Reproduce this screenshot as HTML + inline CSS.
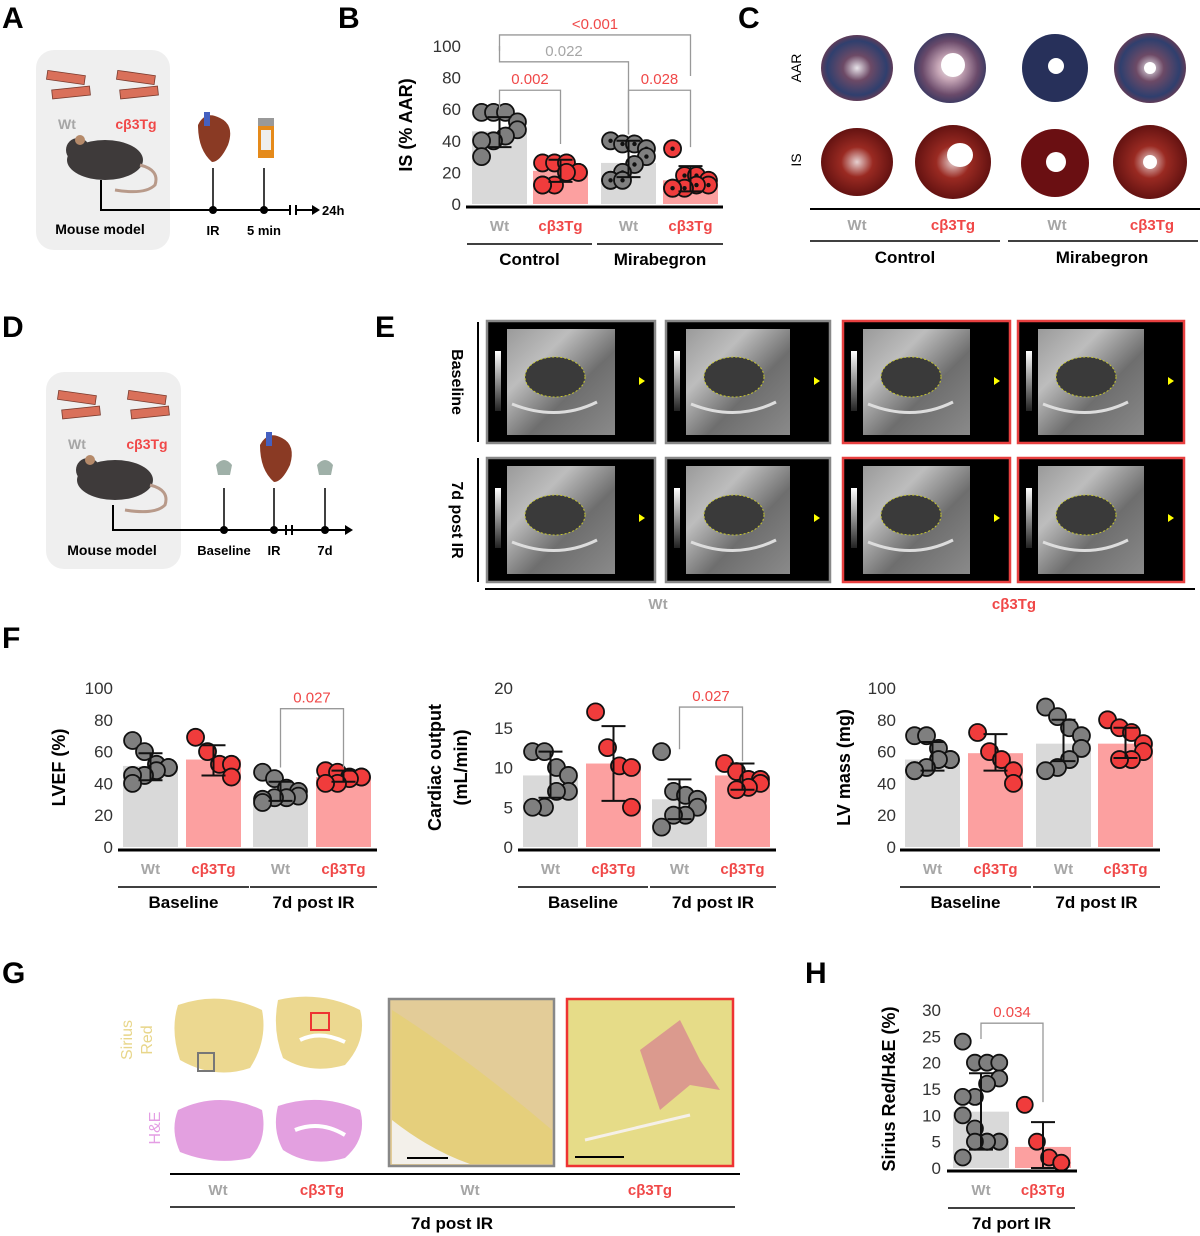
<!DOCTYPE html>
<html><head><meta charset="utf-8"><style>
body{margin:0;background:#fff}
svg{display:block;font-family:"Liberation Sans",sans-serif}
</style></head><body>
<svg id="fig" width="1200" height="1236" viewBox="0 0 1200 1236" xmlns="http://www.w3.org/2000/svg">
<defs>
<radialGradient id="aar1" cx="50%" cy="50%" r="55%"><stop offset="0" stop-color="#e8e4ea"/><stop offset="0.35" stop-color="#6d4a66"/><stop offset="0.75" stop-color="#2f3f6e"/><stop offset="1" stop-color="#7b3a4c"/></radialGradient>
<radialGradient id="aar2" cx="50%" cy="50%" r="55%"><stop offset="0" stop-color="#eee"/><stop offset="0.3" stop-color="#c8a8b8"/><stop offset="0.7" stop-color="#6a4a6a"/><stop offset="1" stop-color="#2e3560"/></radialGradient>
<radialGradient id="is1" cx="50%" cy="50%" r="55%"><stop offset="0" stop-color="#e6d0d0"/><stop offset="0.4" stop-color="#9a2a22"/><stop offset="1" stop-color="#5a0e0e"/></radialGradient>
<linearGradient id="us" x1="0" y1="0" x2="1" y2="1"><stop offset="0" stop-color="#9a9a9a"/><stop offset="0.3" stop-color="#bdbdbd"/><stop offset="0.6" stop-color="#6e6e6e"/><stop offset="1" stop-color="#8a8a8a"/></linearGradient>
<linearGradient id="bar" x1="0" y1="0" x2="0" y2="1"><stop offset="0" stop-color="#fff"/><stop offset="1" stop-color="#222"/></linearGradient>
</defs>

<g font-weight="bold" font-size="30" fill="#000">
<text x="2" y="28">A</text>
<text x="338" y="28">B</text>
<text x="738" y="28">C</text>
<text x="2" y="337">D</text>
<text x="375" y="337">E</text>
<text x="2" y="648">F</text>
<text x="2" y="983">G</text>
<text x="805" y="983">H</text>
</g>

<g>
<rect x="36" y="50" width="134" height="200" rx="18" fill="#efefef"/>
<g fill="#d9705a" stroke="#7a3b2e" stroke-width="0.8">
<rect x="47" y="73" width="38" height="9" transform="rotate(8 66 77)"/><rect x="52" y="88" width="38" height="9" transform="rotate(-6 71 92)"/>
<rect x="117" y="73" width="38" height="9" transform="rotate(8 136 77)"/><rect x="120" y="88" width="38" height="9" transform="rotate(-6 139 92)"/>
</g>
<text x="67" y="129" font-size="14" font-weight="bold" fill="#a6a6a6" text-anchor="middle">Wt</text>
<text x="136" y="129" font-size="14" font-weight="bold" fill="#f04848" text-anchor="middle">cβ3Tg</text>
<ellipse cx="105" cy="160" rx="38" ry="20" fill="#3e3a3a"/><circle cx="78" cy="150" r="12" fill="#3e3a3a"/><circle cx="80" cy="140" r="5" fill="#b58a6a"/>
<path d="M140 165 Q160 170 155 185 Q145 195 115 190" fill="none" stroke="#b89a8a" stroke-width="3"/>
<path d="M101 180 V210 H290" fill="none" stroke="#000" stroke-width="2"/>
<path d="M290 205 V215 M296 205 V215 M296 210 H312" stroke="#000" stroke-width="2"/><path d="M312 205 L320 210 L312 215 Z" fill="#000"/>
<line x1="213" y1="168" x2="213" y2="210" stroke="#000" stroke-width="1.5"/><line x1="264" y1="168" x2="264" y2="210" stroke="#000" stroke-width="1.5"/>
<circle cx="213" cy="210" r="4"/><circle cx="264" cy="210" r="4"/>
<path d="M198 125 Q205 110 220 118 Q235 125 228 145 Q220 162 212 162 Q198 150 198 125Z" fill="#8a3a24"/><rect x="204" y="112" width="6" height="14" fill="#4560c0"/>
<rect x="258" y="118" width="16" height="8" fill="#999"/><rect x="258" y="126" width="16" height="32" fill="#e58a1a"/><rect x="261" y="130" width="10" height="20" fill="#eee"/>
<text x="100" y="234" font-size="14" font-weight="bold" text-anchor="middle">Mouse model</text>
<text x="213" y="235" font-size="13" font-weight="bold" text-anchor="middle">IR</text>
<text x="264" y="235" font-size="13" font-weight="bold" text-anchor="middle">5 min</text>
<text x="322" y="215" font-size="13" font-weight="bold">24h</text>
</g>

<g>
<rect x="46" y="372" width="135" height="197" rx="18" fill="#efefef"/>
<g fill="#d9705a" stroke="#7a3b2e" stroke-width="0.8">
<rect x="58" y="393" width="38" height="9" transform="rotate(8 77 397)"/><rect x="62" y="408" width="38" height="9" transform="rotate(-6 81 412)"/>
<rect x="128" y="393" width="38" height="9" transform="rotate(8 147 397)"/><rect x="131" y="408" width="38" height="9" transform="rotate(-6 150 412)"/>
</g>
<text x="77" y="449" font-size="14" font-weight="bold" fill="#a6a6a6" text-anchor="middle">Wt</text>
<text x="147" y="449" font-size="14" font-weight="bold" fill="#f04848" text-anchor="middle">cβ3Tg</text>
<ellipse cx="115" cy="480" rx="38" ry="20" fill="#3e3a3a"/><circle cx="88" cy="470" r="12" fill="#3e3a3a"/><circle cx="90" cy="460" r="5" fill="#b58a6a"/>
<path d="M150 485 Q170 490 165 505 Q155 515 125 510" fill="none" stroke="#b89a8a" stroke-width="3"/>
<path d="M113 505 V530 H345" fill="none" stroke="#000" stroke-width="2"/>
<path d="M286 525 V535 M292 525 V535" stroke="#000" stroke-width="2"/><path d="M345 525 L353 530 L345 535 Z" fill="#000"/>
<line x1="224" y1="488" x2="224" y2="530" stroke="#000" stroke-width="1.5"/><line x1="274" y1="488" x2="274" y2="530" stroke="#000" stroke-width="1.5"/><line x1="325" y1="488" x2="325" y2="530" stroke="#000" stroke-width="1.5"/>
<circle cx="224" cy="530" r="4"/><circle cx="274" cy="530" r="4"/><circle cx="325" cy="530" r="4"/>
<path d="M216 465 Q224 455 232 465 L230 475 H218Z" fill="#9fb0a8"/><path d="M317 465 Q325 455 333 465 L331 475 H319Z" fill="#9fb0a8"/>
<path d="M260 445 Q268 430 282 438 Q296 445 290 465 Q282 482 274 482 Q260 470 260 445Z" fill="#8a3a24"/><rect x="266" y="432" width="6" height="14" fill="#4560c0"/>
<text x="112" y="555" font-size="14" font-weight="bold" text-anchor="middle">Mouse model</text>
<text x="224" y="555" font-size="13" font-weight="bold" text-anchor="middle">Baseline</text>
<text x="274" y="555" font-size="13" font-weight="bold" text-anchor="middle">IR</text>
<text x="325" y="555" font-size="13" font-weight="bold" text-anchor="middle">7d</text>
</g>

<g>
<text transform="translate(801 68) rotate(-90)" font-size="14" text-anchor="middle">AAR</text>
<text transform="translate(801 160) rotate(-90)" font-size="14" text-anchor="middle">IS</text>
<ellipse cx="857" cy="68" rx="36" ry="33" fill="url(#aar1)"/>
<ellipse cx="950" cy="68" rx="36" ry="35" fill="url(#aar2)"/><ellipse cx="953" cy="65" rx="12" ry="12" fill="#fff"/>
<ellipse cx="1055" cy="68" rx="33" ry="34" fill="#27305a"/><circle cx="1056" cy="66" r="8" fill="#fff"/>
<ellipse cx="1150" cy="68" rx="36" ry="35" fill="url(#aar1)"/><circle cx="1150" cy="68" r="6" fill="#fff"/>
<ellipse cx="857" cy="162" rx="36" ry="34" fill="url(#is1)"/>
<ellipse cx="953" cy="162" rx="38" ry="37" fill="url(#is1)"/><ellipse cx="960" cy="155" rx="13" ry="12" fill="#fff"/>
<ellipse cx="1055" cy="163" rx="34" ry="34" fill="#6a0f12"/><circle cx="1056" cy="162" r="10" fill="#fff"/>
<ellipse cx="1150" cy="162" rx="37" ry="37" fill="url(#is1)"/><circle cx="1150" cy="162" r="7" fill="#fff"/>
<line x1="810" y1="209" x2="1200" y2="209" stroke="#000" stroke-width="2"/>
<text x="857" y="230" font-size="15" font-weight="bold" fill="#a6a6a6" text-anchor="middle">Wt</text>
<text x="953" y="230" font-size="15" font-weight="bold" fill="#f04848" text-anchor="middle">cβ3Tg</text>
<text x="1057" y="230" font-size="15" font-weight="bold" fill="#a6a6a6" text-anchor="middle">Wt</text>
<text x="1152" y="230" font-size="15" font-weight="bold" fill="#f04848" text-anchor="middle">cβ3Tg</text>
<line x1="810" y1="241" x2="1000" y2="241" stroke="#000" stroke-width="1.5"/><line x1="1008" y1="241" x2="1198" y2="241" stroke="#000" stroke-width="1.5"/>
<text x="905" y="263" font-size="17" font-weight="bold" text-anchor="middle">Control</text>
<text x="1102" y="263" font-size="17" font-weight="bold" text-anchor="middle">Mirabegron</text>
</g>

<g>
<line x1="478" y1="322" x2="478" y2="442" stroke="#000" stroke-width="2"/>
<line x1="478" y1="458" x2="478" y2="582" stroke="#000" stroke-width="2"/>
<text transform="translate(452 382) rotate(90)" font-size="16" font-weight="bold" text-anchor="middle">Baseline</text>
<text transform="translate(452 520) rotate(90)" font-size="16" font-weight="bold" text-anchor="middle">7d post IR</text>
<g id="usframes"></g>
<line x1="485" y1="589" x2="1195" y2="589" stroke="#000" stroke-width="2"/>
<text x="658" y="609" font-size="15" font-weight="bold" fill="#a6a6a6" text-anchor="middle">Wt</text>
<text x="1014" y="609" font-size="15" font-weight="bold" fill="#f04848" text-anchor="middle">cβ3Tg</text>
</g>

<g>
<text transform="translate(132 1040) rotate(-90)" font-size="16" fill="#e8d68a" text-anchor="middle">Sirius</text>
<text transform="translate(152 1040) rotate(-90)" font-size="16" fill="#e8d68a" text-anchor="middle">Red</text>
<text transform="translate(160 1128) rotate(-90)" font-size="16" fill="#e49ee4" text-anchor="middle">H&amp;E</text>
<path d="M178 1005 Q220 990 262 1010 Q268 1040 250 1068 Q215 1080 180 1060 Q170 1030 178 1005Z" fill="#ecd890"/>
<path d="M278 1000 Q320 990 360 1010 Q368 1040 345 1065 Q310 1075 283 1058 Q272 1030 278 1000Z" fill="#ecd890"/>
<path d="M300 1040 Q320 1030 345 1042" stroke="#fff" stroke-width="4" fill="none"/>
<rect x="198" y="1053" width="16" height="18" fill="none" stroke="#777" stroke-width="2"/>
<rect x="311" y="1013" width="18" height="17" fill="none" stroke="#e33" stroke-width="2"/>
<path d="M178 1110 Q220 1090 262 1110 Q268 1140 250 1158 Q215 1166 180 1152 Q170 1130 178 1110Z" fill="#e3a0e0"/>
<path d="M278 1106 Q320 1092 360 1110 Q368 1138 345 1158 Q310 1168 283 1150 Q272 1130 278 1106Z" fill="#e3a0e0"/>
<path d="M295 1130 Q320 1120 345 1135" stroke="#fff" stroke-width="4" fill="none"/>
<rect x="389" y="999" width="165" height="167" fill="#e3cc98" stroke="#888" stroke-width="2.5"/>
<path d="M392 1010 Q470 1060 552 1130 V1164 H392Z" fill="#e6d070" opacity="0.7"/>
<path d="M392 1120 Q430 1150 470 1164 H392Z" fill="#f3f0ea"/>
<line x1="407" y1="1158" x2="448" y2="1158" stroke="#000" stroke-width="2"/>
<rect x="567" y="999" width="166" height="167" fill="#e6dc88" stroke="#e33" stroke-width="2.5"/>
<path d="M640 1050 L680 1020 L700 1060 L720 1090 L690 1085 L660 1110 L650 1080 Z" fill="#d88a90" opacity="0.8"/>
<line x1="585" y1="1140" x2="690" y2="1115" stroke="#f5f0e8" stroke-width="3"/>
<line x1="575" y1="1157" x2="624" y2="1157" stroke="#000" stroke-width="2"/>
<line x1="170" y1="1174" x2="740" y2="1174" stroke="#000" stroke-width="2"/>
<text x="218" y="1195" font-size="15" font-weight="bold" fill="#a6a6a6" text-anchor="middle">Wt</text>
<text x="322" y="1195" font-size="15" font-weight="bold" fill="#f04848" text-anchor="middle">cβ3Tg</text>
<text x="470" y="1195" font-size="15" font-weight="bold" fill="#a6a6a6" text-anchor="middle">Wt</text>
<text x="650" y="1195" font-size="15" font-weight="bold" fill="#f04848" text-anchor="middle">cβ3Tg</text>
<line x1="170" y1="1207" x2="735" y2="1207" stroke="#000" stroke-width="1.5"/>
<text x="452" y="1229" font-size="17" font-weight="bold" text-anchor="middle">7d post IR</text>
</g>

<g id="charts"></g>
</svg>
<script>
// ===== Panel B: IS (% AAR)
const bCategories = ["Wt", "cβ3Tg", "Wt", "cβ3Tg"];
const bMeans = [46, 21, 26, 15];
const bErrLow = [36, 14, 17, 8];
const bErrHigh = [55, 28, 40, 24];
const bPoints = [[58,58,58,52,47,43,40,40,30],[26,26,26,20,20,20,12,12,12],[40,38,38,35,30,25,20,15,15,15],[35,18,18,15,12,12,10,10,10]];
const bTicks = [0,20,40,60,80,100];
const bPvalues = ["0.002","0.028","0.022","<0.001"];
// ===== Panel F: LVEF
const f1Categories = ["Wt", "cβ3Tg", "Wt", "cβ3Tg"];
const f1Means = [51, 55, 31, 44];
const f1ErrLow = [42, 45, 29, 41];
const f1ErrHigh = [59, 64, 41, 48];
const f1Points = [[67,60,52,50,50,48,45,45,40],[69,60,52,52,44],[47,43,37,35,32,31,31,30,28],[48,47,44,44,44,43,40,40]];
const f1Ticks = [0,20,40,60,80,100];
const f1Pvalues = ["0.027"];
// ===== Panel F: Cardiac output
const f2Categories = ["Wt", "cβ3Tg", "Wt", "cβ3Tg"];
const f2Means = [9, 10.5, 6, 9];
const f2ErrLow = [6.2, 5.8, 3.5, 7.2];
const f2ErrHigh = [12, 15.2, 8.5, 10.5];
const f2Points = [[12,12,10,9,7,7,5,5],[17,12.5,10.2,10,5],[12,7,6.5,6,5,4,4,2.5],[10.5,9.5,8.5,8.5,8,7.5,7.2]];
const f2Ticks = [0,5,10,15,20];
const f2Pvalues = ["0.027"];
// ===== Panel F: LV mass
const f3Categories = ["Wt", "cβ3Tg", "Wt", "cβ3Tg"];
const f3Means = [55, 59, 65, 65];
const f3ErrLow = [48, 48, 54, 56];
const f3ErrHigh = [66, 71, 80, 75];
const f3Points = [[70,70,62,55,55,55,50,48,48],[72,60,55,48,40],[88,82,75,70,62,55,50,48],[80,75,72,65,60,55,55]];
const f3Ticks = [0,20,40,60,80,100];
// ===== Panel H: Sirius Red
const hCategories = ["Wt", "cβ3Tg"];
const hMeans = [10.7, 4];
const hErrLow = [3.5, 0];
const hErrHigh = [18, 8.7];
const hPoints = [[24,20,20,20,17,16,13.5,13.5,10,7.5,5,5,5,5,5,2],[12,5,2,1,1]];
const hTicks = [0,5,10,15,20,25,30];
const hPvalues = ["0.034"];

const NS = "http://www.w3.org/2000/svg";
const root = document.getElementById("charts");
function mk(tag, attrs, parent, txt) {
  const e = document.createElementNS(NS, tag);
  for (const k in attrs) e.setAttribute(k, attrs[k]);
  if (txt !== undefined) e.textContent = txt;
  (parent || root).appendChild(e);
  return e;
}
const GRAY = "#a6a6a6", RED = "#f04848";

function drawChart(o) {
  const g = mk("g", {});
  
  
  const maxV = o.ticks[o.ticks.length - 1];
  const y = v => o.y0 - (v / maxV) * (o.y0 - o.yTop);
  const bx = i => o.barX[i];
  o.ticks.forEach(t => {
    const tl = mk("text", {x: o.tickX, y: y(t) + 6, "font-size": 17, fill: "#333", "text-anchor": "end"}, g, t);
    
    
  });
  const yt = mk("text", {transform: `translate(${o.titleX} ${(o.y0 + o.yTop) / 2}) rotate(-90)`, "font-size": 18, "font-weight": "bold", "text-anchor": "middle"}, g);
  
  
  o.title.forEach((line, k) => mk("tspan", {x: 0, dy: k === 0 ? (o.title.length > 1 ? -4 : 0) : 26}, yt, line));
  o.means.forEach((m, i) => {
    const red = o.cats[i] !== "Wt";
    const r = mk("rect", {x: bx(i), y: y(m), width: o.barW, height: o.y0 - y(m), fill: red ? "#fca0a0" : "#d9d9d9"}, g);
    
    
  });
  o.points.forEach((arr, i) => {
    const red = o.cats[i] !== "Wt";
    const cx = bx(i) + o.barW / 2;
    arr.forEach((v, j) => {
      const off = ((j % 4) - 1.5) * (o.barW / 4.6) * ((Math.floor(j / 4) % 2) ? -1 : 1);
      const c = mk("circle", {cx: cx + off, cy: y(v), r: o.r, fill: red ? "#f03c3c" : "#7f7f7f", stroke: "#111", "stroke-width": 1.8}, g);
      
      
      if (o.dotted && o.dotted[i]) mk("circle", {cx: cx + off, cy: y(v), r: 2.2, fill: "#111"}, g);
    });
    const eb = mk("path", {d: `M${cx} ${y(o.lo[i])} V${y(o.hi[i])} M${cx - 12} ${y(o.lo[i])} H${cx + 12} M${cx - 12} ${y(o.hi[i])} H${cx + 12}`, stroke: "#111", "stroke-width": 2, fill: "none"}, g);
    
    
  });
  const ax = mk("line", {x1: o.axX0, x2: o.axX1, y1: o.y0 + 3, y2: o.y0 + 3, stroke: "#000", "stroke-width": 3}, g);
  
  
  o.cats.forEach((c, i) => {
    const t = mk("text", {x: bx(i) + o.barW / 2, y: o.y0 + 27, "font-size": 15, "font-weight": "bold", fill: c === "Wt" ? GRAY : RED, "text-anchor": "middle"}, g, c);
    
    
  });
  (o.groups || []).forEach(gr => {
    mk("line", {x1: gr[0], x2: gr[1], y1: o.y0 + 40, y2: o.y0 + 40, stroke: "#000", "stroke-width": 1.6}, g);
    const t = mk("text", {x: (gr[0] + gr[1]) / 2, y: o.y0 + 61, "font-size": 17, "font-weight": "bold", "text-anchor": "middle"}, g, gr[2]);
    
    
  });
  (o.brackets || []).forEach(b => {
    const x1 = bx(b[0]) + o.barW / 2, x2 = bx(b[1]) + o.barW / 2;
    const p = mk("path", {d: `M${x1} ${y(b[4])} V${y(b[3])} H${x2} V${y(b[5])}`, stroke: "#999", "stroke-width": 1.3, fill: "none"}, g);
    
    
    const t = mk("text", {x: (x1 + x2) / 2, y: y(b[3]) - 6, "font-size": 15, fill: b[6], "text-anchor": "middle"}, g, o.pvals[b[2]]);
    
    
  });
}

drawChart({name: "chart-b-infarct-size", cats: bCategories, means: bMeans, lo: bErrLow, hi: bErrHigh, points: bPoints, ticks: bTicks, pvals: bPvalues,
  y0: 204, yTop: 46, barX: [472, 533, 601, 663], barW: 55, r: 8.5, tickX: 461, titleX: 412, title: ["IS (% AAR)"],
  axX0: 466, axX1: 723, dotted: [false, false, true, true],
  groups: [[467, 592, "Control"], [597, 723, "Mirabegron"]],
  brackets: [[0, 1, 0, 72, 60, 38, RED], [2, 3, 1, 72, 44, 36, RED], [0, 2, 2, 90, 100, 44, GRAY], [0, 3, 3, 107, 97, 81, RED]]});

drawChart({name: "chart-f-lvef", cats: f1Categories, means: f1Means, lo: f1ErrLow, hi: f1ErrHigh, points: f1Points, ticks: f1Ticks, pvals: f1Pvalues,
  y0: 847, yTop: 688, barX: [123, 186, 253, 316], barW: 55, r: 8.5, tickX: 113, titleX: 65, title: ["LVEF (%)"],
  axX0: 118, axX1: 377, groups: [[118, 249, "Baseline"], [250, 377, "7d post IR"]],
  brackets: [[2, 3, 0, 87, 50, 50, RED]]});

drawChart({name: "chart-f-cardiac-output", cats: f2Categories, means: f2Means, lo: f2ErrLow, hi: f2ErrHigh, points: f2Points, ticks: f2Ticks, pvals: f2Pvalues,
  y0: 847, yTop: 688, barX: [523, 586, 652, 715], barW: 55, r: 8.5, tickX: 513, titleX: 445, title: ["Cardiac output", "(mL/min)"],
  axX0: 518, axX1: 776, groups: [[518, 648, "Baseline"], [650, 776, "7d post IR"]],
  brackets: [[2, 3, 0, 17.6, 12.3, 10.8, RED]]});

drawChart({name: "chart-f-lv-mass", cats: f3Categories, means: f3Means, lo: f3ErrLow, hi: f3ErrHigh, points: f3Points, ticks: f3Ticks,
  y0: 847, yTop: 688, barX: [905, 968, 1036, 1098], barW: 55, r: 8.5, tickX: 896, titleX: 850, title: ["LV mass (mg)"],
  axX0: 900, axX1: 1160, groups: [[900, 1031, "Baseline"], [1033, 1160, "7d post IR"]]});

drawChart({name: "chart-h-sirius-red", cats: hCategories, means: hMeans, lo: hErrLow, hi: hErrHigh, points: hPoints, ticks: hTicks, pvals: hPvalues,
  y0: 1168, yTop: 1010, barX: [953, 1015], barW: 56, r: 8, tickX: 941, titleX: 895, title: ["Sirius Red/H&E (%)"],
  axX0: 947, axX1: 1077, groups: [[948, 1075, "7d port IR"]],
  brackets: [[0, 1, 0, 27.5, 24.5, 12.5, RED]]});

const uf = document.getElementById("usframes");
const frameX = [487, 666, 843, 1018], frameW = [168, 164, 167, 166], frameY = [321, 458], frameH = [122, 124];
frameY.forEach((fy, r) => frameX.forEach((fx, c) => {
  const g = mk("g", {}, uf);
  
  
  mk("rect", {x: fx, y: fy, width: frameW[c], height: frameH[r], fill: "#000", stroke: c < 2 ? "#888" : "#e84040", "stroke-width": 2.5}, g);
  mk("rect", {x: fx + 20, y: fy + 8, width: frameW[c] - 60, height: frameH[r] - 16, fill: "url(#us)"}, g);
  mk("ellipse", {cx: fx + 68, cy: fy + frameH[r] / 2 - 5, rx: 30, ry: 20, fill: "#3a3a3a", stroke: "#c8c830", "stroke-width": 1, "stroke-dasharray": "2 2"}, g);
  mk("path", {d: `M${fx + 25} ${fy + frameH[r] / 2 + 22} Q${fx + 70} ${fy + frameH[r] / 2 + 40} ${fx + 110} ${fy + frameH[r] / 2 + 20}`, stroke: "#ddd", "stroke-width": 3, fill: "none"}, g);
  mk("rect", {x: fx + 8, y: fy + 30, width: 6, height: 60, fill: "url(#bar)"}, g);
  mk("path", {d: `M${fx + frameW[c] - 10} ${fy + 60} l-6 -4 v8 z`, fill: "#ff0"}, g);
}));
</script>
</body></html>
